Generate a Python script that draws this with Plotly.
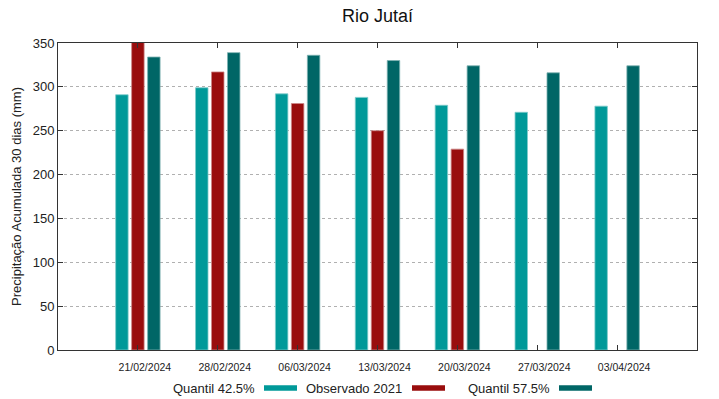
import plotly.graph_objects as go

dates = ["21/02/2024", "28/02/2024", "06/03/2024", "13/03/2024",
         "20/03/2024", "27/03/2024", "03/04/2024"]
q425 = [291, 299, 292, 288, 279, 271, 278]
obs2021 = [356, 317, 281, 250, 229, None, None]
q575 = [334, 339, 336, 330, 324, 316, 324]

series_names = ["Quantil 42.5%", "Observado 2021", "Quantil 57.5%"]
colors = ["#009999", "#990d0d", "#006666"]
edge = ["#7fcccc", "#cc8686", "#7fb2b2"]

fig = go.Figure()
for name, vals, c, e in zip(series_names, [q425, obs2021, q575], colors, edge):
    fig.add_trace(go.Bar(x=dates, y=vals, name=name, marker_color=c,
                         marker_line=dict(color=e, width=0.8), showlegend=False))

fig.update_layout(
    width=719, height=399,
    margin=dict(l=58, r=22, t=43, b=49),
    paper_bgcolor="white", plot_bgcolor="white",
    barmode="group", bargap=0.4, bargroupgap=0.22,
    font=dict(family="Liberation Sans, Arial, sans-serif", color="#222222"),
    title=dict(text="Rio Jutaí", x=0.5, xref="paper", y=0.96, yanchor="middle",
               font=dict(size=18, color="#111111")),
)
fig.update_xaxes(type="category", range=[-1, 7], showline=True, linecolor="#333333",
                 linewidth=1, mirror="ticks", ticks="inside", ticklen=5,
                 tickcolor="#333333", tickfont=dict(size=10.5), showgrid=False,
                 ticklabelshift=7, ticklabelstandoff=7)
fig.update_yaxes(range=[0, 350], dtick=50, showline=True, linecolor="#333333",
                 linewidth=1, mirror="ticks", ticks="inside", ticklen=5,
                 tickcolor="#333333", tickfont=dict(size=13),
                 showgrid=True, gridcolor="#b0b0b0", griddash="dot", gridwidth=1,
                 zeroline=False,
                 title=dict(text="Precipitação Acumulada 30 dias (mm)",
                            font=dict(size=13), standoff=8))

# legend (gnuplot style: label then swatch)
leg_y = -0.124
label_right = [257, 404, 552]
sw_x = [(264, 297), (412, 445), (559, 592)]
pw = 719 - 58 - 22
for name, c, lr, (x0, x1) in zip(series_names, colors, label_right, sw_x):
    fig.add_annotation(text=name, xref="paper", yref="paper",
                       x=(lr - 58) / pw, y=leg_y, xanchor="right", yanchor="middle",
                       showarrow=False, font=dict(size=13, color="#222222"))
    fig.add_shape(type="rect", xref="paper", yref="paper",
                  x0=(x0 - 58) / pw, x1=(x1 - 58) / pw,
                  y0=leg_y - 0.009, y1=leg_y + 0.009,
                  fillcolor=c, line=dict(width=0))

fig.write_html("out.html", config={"displayModeBar": False},
               post_script="document.body.style.margin='0px';document.body.style.overflow='hidden';")
